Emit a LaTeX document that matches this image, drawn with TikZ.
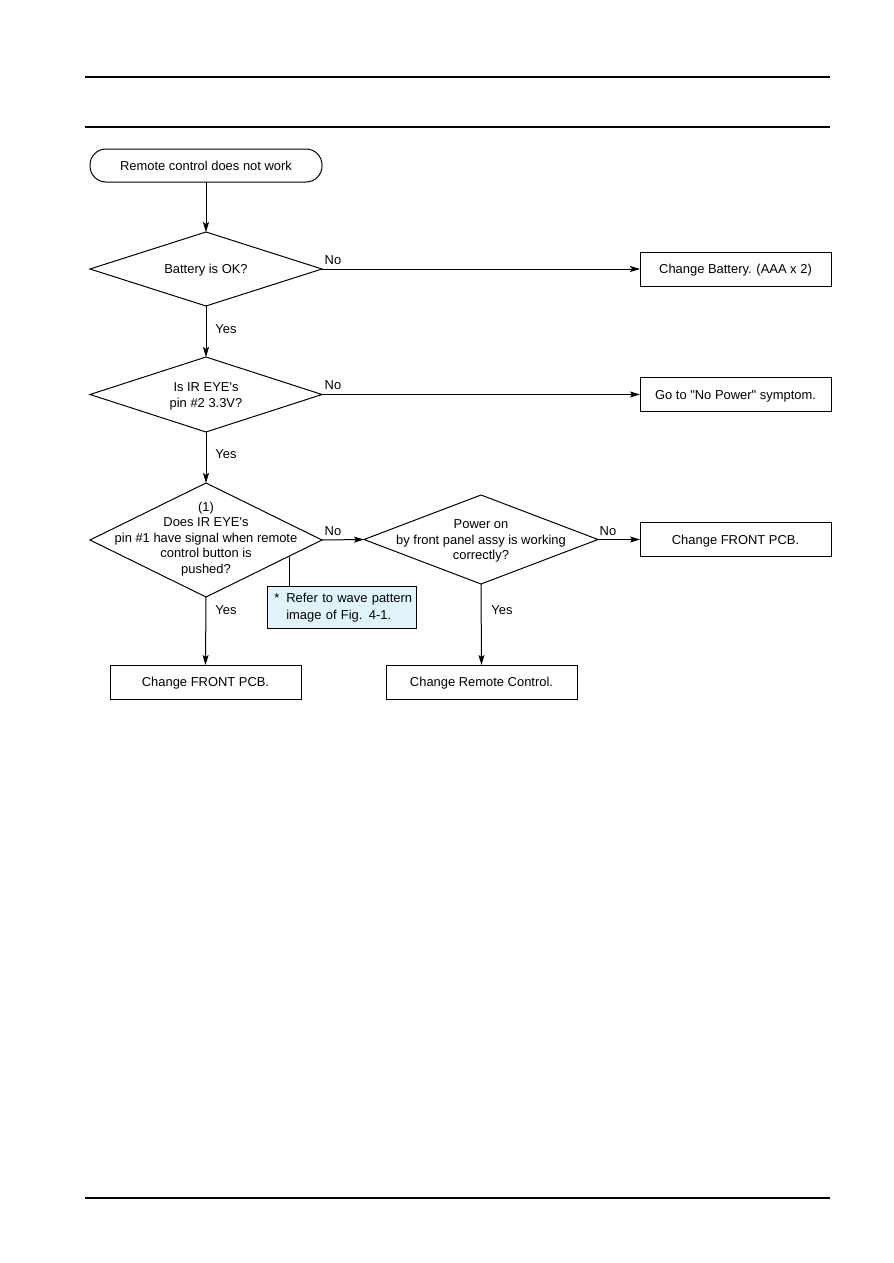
\documentclass[tikz,border=0pt]{standalone}
\usepackage{fontspec}
\setmainfont{Liberation Sans}
\usetikzlibrary{shapes.geometric,arrows.meta}
\def\pu{0.75pt}
\definecolor{notefill}{RGB}{226,244,251}
\begin{document}
\begin{tikzpicture}[x=0.75pt,y=-0.75pt,
  every node/.style={font=\fontsize{9.7}{11.6}\selectfont, inner sep=0pt, outer sep=0pt},
  line/.style={line width=0.75pt},
  arr/.style={line width=0.75pt, -{Stealth[length=7.5pt,width=4.5pt,inset=1.5pt]}},
  startbox/.style={draw, line width=0.75pt, rounded corners=12pt, minimum width=232*\pu, minimum height=33*\pu, text height=7pt, text depth=0pt},
  actbox/.style={draw, line width=0.75pt, minimum width=191*\pu, minimum height=34*\pu, text height=7pt, text depth=0pt},
  decision/.style={draw, line width=0.75pt, diamond, minimum width=232*\pu},
  dtext/.style={align=center},
  lbl/.style={text height=7pt, text depth=0pt}
]
\path[use as bounding box] (0,0) rectangle (893,1263);
% page rules
\draw[line width=1.2pt] (85,77) -- (830,77);
\draw[line width=1.2pt] (85,127) -- (830,127);
\draw[line width=1.2pt] (85,1198) -- (830,1198);

\node[startbox] (start) at (206,165.5) {Remote control does not work};

\node[decision, minimum height=74*\pu] (d1) at (206,269) {};
\node[dtext, text height=7pt, text depth=0pt] (d1t) at (d1.center) {Battery is OK?};
\node[actbox] (b1) at (735.5,269) {Change Battery. (AAA x 2)};

\node[decision, minimum height=75*\pu] (d2) at (206,394.5) {};
\node[dtext] (d2t) at (206,396.5) {Is IR EYE\textquotesingle s\\pin \#2 3.3V?};
\node[actbox] (b2) at (735.5,394.5) {Go to \textquotedbl No Power\textquotedbl{} symptom.};

\node[decision, minimum height=114*\pu] (d3) at (206,540) {};
\node[dtext] (d3t) at (206,539) {(1)\\Does IR EYE\textquotesingle s\\pin \#1 have signal when remote\\control button is\\pushed?};

\node[decision, minimum width=234*\pu, minimum height=89*\pu] (d4) at (481,539.5) {};
\node[dtext] (d4t) at (481,541) {Power on\\by front panel assy is working\\correctly?};
\node[actbox] (b3) at (735.5,539.5) {Change FRONT PCB.};

\node[actbox] (b4) at (205.5,682) {Change FRONT PCB.};
\node[actbox] (b5) at (481.5,682) {Change Remote Control.};

\node[draw, line width=0.75pt, fill=notefill, minimum width=149*\pu, minimum height=42*\pu,
      align=left, text width=145*\pu] (note) at (341.5,607.5)
  {\hspace*{4pt}\makebox[9pt][l]{*}Refer to wave pattern\\[1pt]\hspace*{13pt}image of Fig. 4-1.};

% connectors
\draw[arr] (start) -- (d1);
\draw[arr] (d1.east) -- (b1.west);
\draw[arr] (d1.south) -- (d2.north);
\draw[arr] (d2.east) -- (b2.west);
\draw[arr] (d2.south) -- (d3.north);
\draw[arr] (d3.east) -- (d4.west);
\draw[arr] (d4.east) -- (b3.west);
\draw[arr] (d3.south) -- (b4.north);
\draw[arr] (d4.south) -- (b5.north);
\coordinate (nc) at (289,556.5);
\draw[line] (nc) -- (nc |- note.north);

% labels
\node[lbl] (l1) at (333,260) {No};
\node[lbl] (l2) at (226,329) {Yes};
\node[lbl] (l3) at (333,385) {No};
\node[lbl] (l4) at (226,454) {Yes};
\node[lbl] (l5) at (333,531) {No};
\node[lbl] (l6) at (226,610) {Yes};
\node[lbl] (l7) at (608,531) {No};
\node[lbl] (l8) at (502,610) {Yes};
\end{tikzpicture}
\end{document}
